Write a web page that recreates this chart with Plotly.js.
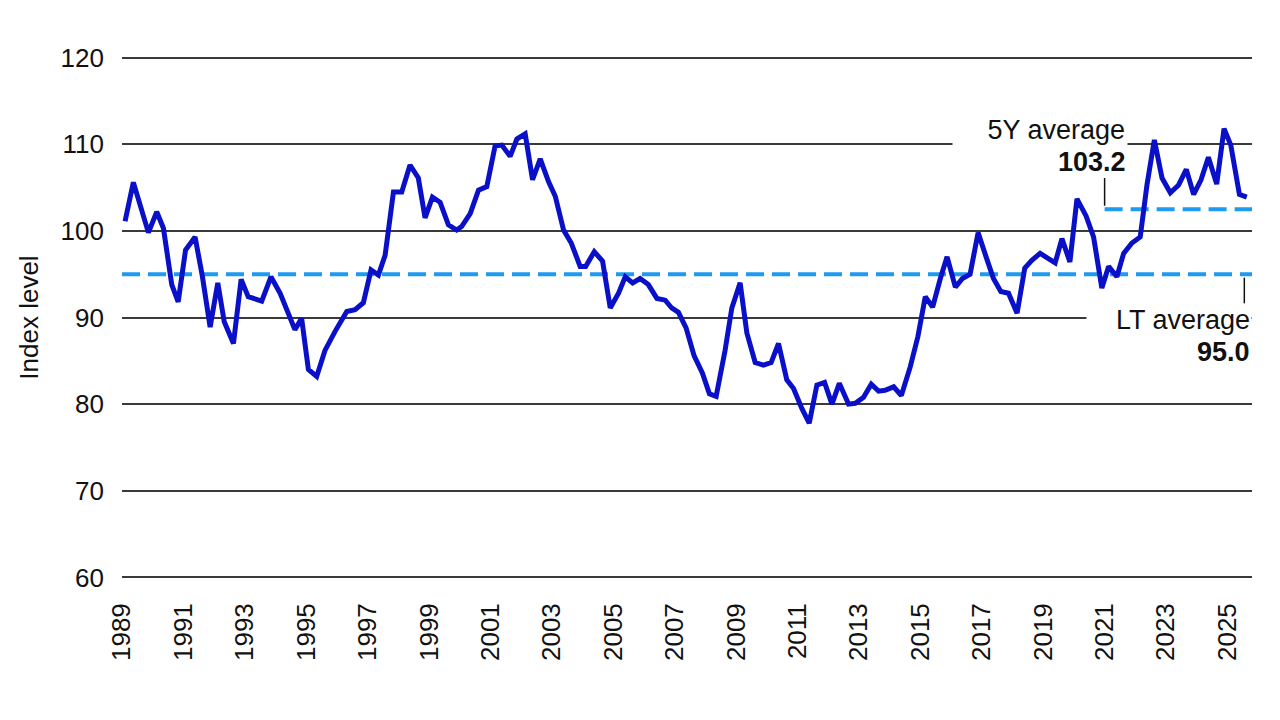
<!DOCTYPE html>
<html>
<head>
<meta charset="utf-8">
<script src="https://cdn.plot.ly/plotly-3.0.1.min.js"></script>
<style>
  html, body { margin: 0; padding: 0; background: #fff; }
  #chart { width: 1280px; height: 720px; }
</style>
</head>
<body>
<div id="chart"></div>
<script>
/***********
  DATA
************/

// Index level (decimal year, value)
const years = [
  1989.10, 1989.37, 1989.86, 1990.13, 1990.35, 1990.62, 1990.83, 1991.07, 1991.38, 1991.62,
  1991.87, 1992.12, 1992.33, 1992.63, 1992.88, 1993.11, 1993.55, 1993.85, 1994.15, 1994.63,
  1994.85, 1995.07, 1995.34, 1995.61, 1995.94, 1996.32, 1996.59, 1996.86, 1997.11, 1997.35,
  1997.57, 1997.84, 1998.11, 1998.38, 1998.65, 1998.87, 1999.11, 1999.36, 1999.63, 1999.90,
  2000.06, 2000.34, 2000.61, 2000.88, 2001.15, 2001.37, 2001.64, 2001.86, 2002.13, 2002.37,
  2002.62, 2002.89, 2003.11, 2003.38, 2003.63, 2003.92, 2004.10, 2004.38, 2004.65, 2004.90,
  2005.17, 2005.39, 2005.63, 2005.87, 2006.14, 2006.42, 2006.69, 2006.90, 2007.12, 2007.37,
  2007.63, 2007.90, 2008.13, 2008.35, 2008.64, 2008.86, 2009.13, 2009.35, 2009.62, 2009.89,
  2010.14, 2010.38, 2010.65, 2010.87, 2011.14, 2011.38, 2011.63, 2011.88, 2012.12, 2012.36,
  2012.66, 2012.88, 2013.15, 2013.40, 2013.64, 2013.85, 2014.13, 2014.38, 2014.67, 2014.92,
  2015.16, 2015.40, 2015.65, 2015.87, 2016.14, 2016.37, 2016.62, 2016.88, 2017.14, 2017.38,
  2017.62, 2017.87, 2018.15, 2018.40, 2018.63, 2018.90, 2019.17, 2019.39, 2019.61, 2019.87,
  2020.10, 2020.40, 2020.64, 2020.91, 2021.13, 2021.40, 2021.62, 2021.89, 2022.16, 2022.38,
  2022.62, 2022.87, 2023.14, 2023.41, 2023.66, 2023.90, 2024.14, 2024.38, 2024.65, 2024.89,
  2025.11, 2025.39, 2025.63
];

const indexLevel = [
  101.1, 105.6,  99.8, 102.2, 100.3,  93.8,  91.8,  97.8,  99.3,  94.7,
   88.9,  94.0,  89.5,  87.0,  94.4,  92.4,  91.9,  94.7,  92.8,  88.6,
   89.9,  84.0,  83.2,  86.2,  88.4,  90.7,  90.9,  91.7,  95.5,  94.9,
   97.2, 104.5, 104.5, 107.6, 106.1, 101.5, 103.9, 103.3, 100.7, 100.1,
  100.5, 102.0, 104.7, 105.1, 109.8, 109.9, 108.6, 110.6, 111.2, 105.9,
  108.3, 105.7, 104.0, 100.1,  98.6,  95.9,  95.9,  97.6,  96.5,  91.1,
   92.8,  94.7,  94.0,  94.5,  93.8,  92.2,  92.0,  91.1,  90.6,  88.8,
   85.6,  83.6,  81.2,  80.9,  86.2,  91.1,  94.0,  88.2,  84.8,  84.5,
   84.8,  87.0,  82.8,  81.8,  79.5,  77.8,  82.2,  82.5,  80.0,  82.4,
   80.0,  80.1,  80.8,  82.3,  81.5,  81.6,  82.0,  81.0,  84.3,  87.8,
   92.4,  91.2,  94.5,  97.0,  93.5,  94.5,  95.0,  99.8,  97.0,  94.5,
   93.0,  92.8,  90.5,  95.7,  96.6,  97.4,  96.8,  96.3,  99.1,  96.4,
  103.7, 101.7,  99.3,  93.4,  95.9,  94.7,  97.4,  98.6,  99.3, 105.3,
  110.5, 106.1, 104.4, 105.3, 107.1, 104.2, 105.9, 108.5, 105.4, 111.8,
  109.9, 104.2, 103.9
];

// Averages
const ltAvgLabel = "95.0";
const ltAvgLevel = 95.0;
const ltSpan = [1989.0, 2025.8];

const fiveYAvgLabel = "103.2";
const fiveYAvgLevel = 102.5;   // where the dashed line sits in the picture
const fiveYSpan = [2021.0, 2025.8];

// Axis ticks
const yearTicks = [1989, 1991, 1993, 1995, 1997, 1999, 2001, 2003, 2005, 2007,
                   2009, 2011, 2013, 2015, 2017, 2019, 2021, 2023, 2025];
const yTicks = [60, 70, 80, 90, 100, 110, 120];

/***********
  CHART
************/

const FONT = "Liberation Sans, Arial, sans-serif";

function drawChart() {
  let lineTrace = {
    x: years,
    y: indexLevel,
    type: 'scatter',
    mode: 'lines',
    line: { color: '#0a0fc8', width: 5 },
    hoverinfo: 'skip'
  };

  let ltTrace = {
    x: ltSpan,
    y: [ltAvgLevel, ltAvgLevel],
    type: 'scatter',
    mode: 'lines',
    line: { color: '#1e9bf0', width: 4, dash: '18px,8px' },
    hoverinfo: 'skip'
  };

  let fiveYTrace = {
    x: fiveYSpan,
    y: [fiveYAvgLevel, fiveYAvgLevel],
    type: 'scatter',
    mode: 'lines',
    line: { color: '#1e9bf0', width: 4, dash: '18px,8px' },
    hoverinfo: 'skip'
  };

  let plotData = [ltTrace, fiveYTrace, lineTrace];

  let layout = {
    width: 1280,
    height: 720,
    margin: { l: 122, r: 28, t: 55, b: 140 },
    paper_bgcolor: '#fff',
    plot_bgcolor: '#fff',
    showlegend: false,
    font: { family: FONT, color: '#111', size: 26 },
    xaxis: {
      range: [1989, 2025.8],
      tickmode: 'array',
      tickvals: yearTicks,
      ticktext: yearTicks.map(String),
      tickangle: -90,
      showgrid: false,
      zeroline: false,
      showline: false,
      ticks: '',
      ticklabelstandoff: 17,
      tickfont: { family: FONT, size: 26, color: '#111' }
    },
    yaxis: {
      range: [59.7, 120.3],
      tickmode: 'array',
      tickvals: yTicks,
      ticktext: yTicks.map(String),
      showgrid: true,
      gridcolor: '#3a3a3a',
      gridwidth: 2,
      zeroline: false,
      showline: false,
      ticks: '',
      ticklabelstandoff: 17,
      tickfont: { family: FONT, size: 26, color: '#111' },
      title: { text: 'Index level', standoff: 14, font: { family: FONT, size: 26, color: '#111' } }
    },
    shapes: [
      // small leader ticks from labels to the dashed lines
      { type: 'line', xref: 'x', yref: 'y', x0: 2021.0, x1: 2021.0, y0: fiveYAvgLevel + 0.4, y1: fiveYAvgLevel + 3.6,
        line: { color: '#111', width: 1.5 } },
      { type: 'line', xref: 'x', yref: 'y', x0: 2025.55, x1: 2025.55, y0: ltAvgLevel - 0.4, y1: ltAvgLevel - 3.4,
        line: { color: '#111', width: 1.5 } }
    ],
    annotations: [
      { xref: 'x', yref: 'y', x: 2021.75, y: 111.6, xanchor: 'right', yanchor: 'middle',
        text: '5Y average', showarrow: false, align: 'right', width: 170, bgcolor: '#fff', borderpad: 2,
        font: { family: FONT, size: 27, color: '#111' } },
      { xref: 'x', yref: 'y', x: 2021.75, y: 107.9, xanchor: 'right', yanchor: 'middle',
        text: '<b>' + fiveYAvgLabel + '</b>', showarrow: false, align: 'right',
        font: { family: FONT, size: 27, color: '#111' } },
      { xref: 'x', yref: 'y', x: 2025.8, y: 89.7, xanchor: 'right', yanchor: 'middle',
        text: 'LT average', showarrow: false, align: 'right', width: 162, bgcolor: '#fff', borderpad: 1,
        font: { family: FONT, size: 27, color: '#111' } },
      { xref: 'x', yref: 'y', x: 2025.8, y: 86.0, xanchor: 'right', yanchor: 'middle',
        text: '<b>' + ltAvgLabel + '</b>', showarrow: false, align: 'right',
        font: { family: FONT, size: 27, color: '#111' } }
    ]
  };

  Plotly.newPlot('chart', plotData, layout, { staticPlot: true, displayModeBar: false });
}

drawChart();
</script>
</body>
</html>
